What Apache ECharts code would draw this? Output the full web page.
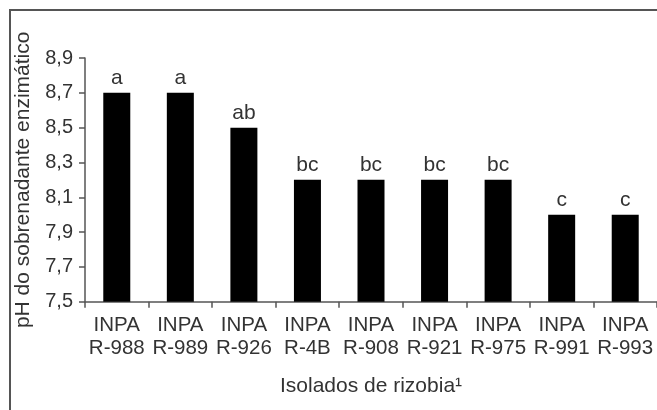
<!DOCTYPE html>
<html>
<head>
<meta charset="utf-8">
<script src="https://cdn.jsdelivr.net/npm/echarts@6/dist/echarts.min.js"></script>
<style>
html,body{margin:0;padding:0;background:#fff;}
#chart{width:657px;height:410px;}
</style>
</head>
<body>
<div id="chart"></div>
<script>
var categories = ['INPA\nR-988','INPA\nR-989','INPA\nR-926','INPA\nR-4B','INPA\nR-908','INPA\nR-921','INPA\nR-975','INPA\nR-991','INPA\nR-993'];
var phValues = [8.7, 8.7, 8.5, 8.2, 8.2, 8.2, 8.2, 8.0, 8.0];
var letters = ['a','a','ab','bc','bc','bc','bc','c','c'];
var yTicks = [7.5, 7.7, 7.9, 8.1, 8.3, 8.5, 8.7, 8.9];

var chart = echarts.init(document.getElementById('chart'), null, {renderer:'canvas'});
var font = 'Liberation Sans, Arial, sans-serif';
var txt = '#333';
var axisCol = '#555';

chart.setOption({
  animation: false,
  backgroundColor: '#fff',
  grid: {left: 85, right: 0, top: 58, bottom: 108.3, containLabel: false},
  graphic: [{
    type: 'polyline',
    shape: {points: [[10, 420], [10, 10], [670, 10]]},
    style: {stroke: '#555', lineWidth: 2, fill: null}
  }],
  xAxis: {
    type: 'category',
    data: categories,
    name: 'Isolados de rizobia\u00b9',
    nameLocation: 'middle',
    nameGap: 74,
    nameTextStyle: {fontFamily: font, fontSize: 21, color: txt},
    axisLine: {lineStyle: {color: axisCol, width: 1.5}},
    axisTick: {show: true, length: 6, lineStyle: {color: axisCol, width: 1.5}},
    axisLabel: {fontFamily: font, fontSize: 20.5, color: txt, lineHeight: 23, margin: 12, interval: 0}
  },
  yAxis: {
    type: 'value',
    min: 7.5,
    max: 8.9,
    name: 'pH do sobrenadante enzimático',
    nameLocation: 'middle',
    nameGap: 51,
    nameRotate: 90,
    nameTextStyle: {fontFamily: font, fontSize: 21, color: txt},
    splitLine: {show: false},
    axisLine: {show: true, lineStyle: {color: axisCol, width: 1.5}},
    axisTick: {show: true, length: 6, lineStyle: {color: axisCol, width: 1.5}, customValues: yTicks},
    axisLabel: {
      fontFamily: font, fontSize: 20, color: txt, margin: 12,
      customValues: yTicks,
      formatter: function (v) { return v.toFixed(1).replace('.', ','); }
    }
  },
  series: [{
    type: 'bar',
    data: phValues,
    barWidth: 27,
    itemStyle: {color: '#000'},
    label: {
      show: true,
      position: 'top',
      distance: 4,
      fontFamily: font,
      fontSize: 21,
      color: txt,
      formatter: function (p) { return letters[p.dataIndex]; }
    }
  }]
});
</script>
</body>
</html>
